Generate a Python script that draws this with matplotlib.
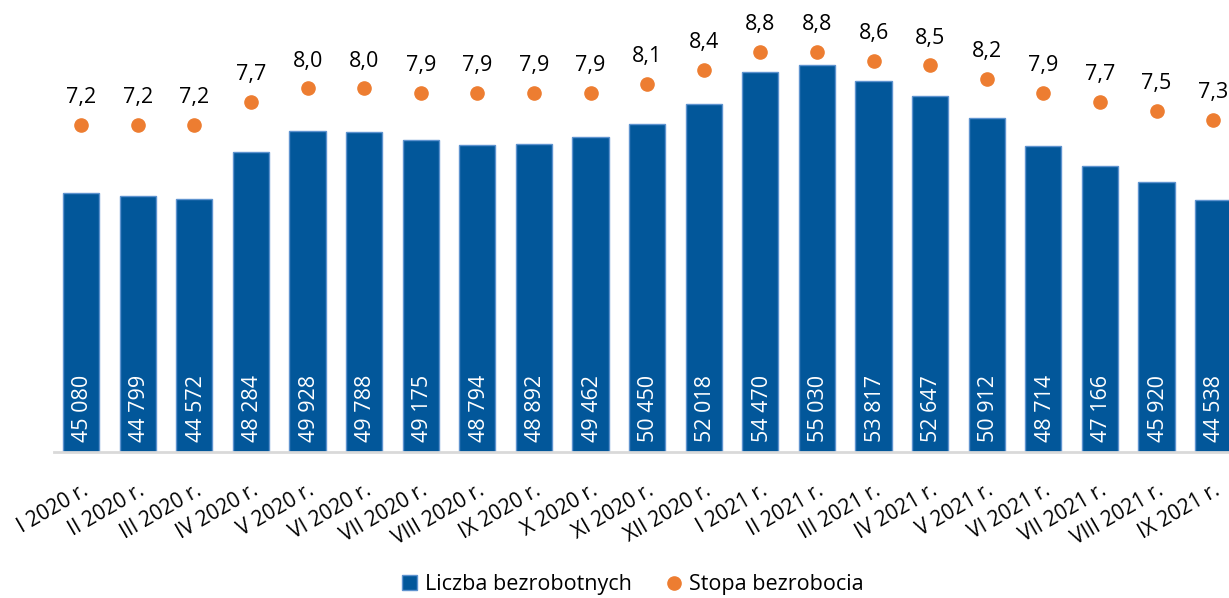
import numpy as np
import matplotlib
matplotlib.use("Agg")
import matplotlib.pyplot as plt
from matplotlib.lines import Line2D
from matplotlib.patches import Patch

plt.rcParams['font.family'] = ['Open Sans', 'DejaVu Sans']

months = ['I', 'II', 'III', 'IV', 'V', 'VI', 'VII', 'VIII', 'IX', 'X', 'XI', 'XII',
          'I', 'II', 'III', 'IV', 'V', 'VI', 'VII', 'VIII', 'IX']
years = [2020] * 12 + [2021] * 9
unemployed = [45080, 44799, 44572, 48284, 49928, 49788, 49175, 48794, 48892, 49462,
              50450, 52018, 54470, 55030, 53817, 52647, 50912, 48714, 47166, 45920, 44538]
rate = [7.2, 7.2, 7.2, 7.7, 8.0, 8.0, 7.9, 7.9, 7.9, 7.9, 8.1, 8.4, 8.8, 8.8, 8.6,
        8.5, 8.2, 7.9, 7.7, 7.5, 7.3]
labels = [f"{m} {y} r." for m, y in zip(months, years)]

bar_color = '#02579A'
dot_color = '#ED7D31'

fig = plt.figure(figsize=(12.29, 5.98), dpi=100)
ax = fig.add_axes([54 / 1229, 1 - 452 / 598, 1 - 54 / 1229, 452 / 598])
x = np.arange(len(unemployed))

ax.bar(x, unemployed, width=0.64, color=bar_color, edgecolor='#5E93CF', linewidth=1, zorder=2)
ax.set_ylim(24900, 60100)
ax.set_xlim(-0.48, 20.28)

for xi, v in zip(x, unemployed):
    s = f"{v:,}".replace(",", " ")
    ax.text(xi + 0.03, 24900 + 10 * 77.9, s, rotation=90, ha='center', va='bottom',
            color='white', fontsize=15.5, zorder=3)

for s in ['top', 'right', 'left']:
    ax.spines[s].set_visible(False)
ax.spines['bottom'].set_color('#d9d9d9')
ax.spines['bottom'].set_linewidth(2)
ax.set_yticks([])
ax.set_xticks(x)
ax.set_xticklabels(labels, rotation=30, ha='right', rotation_mode='anchor', fontsize=15)
ax.tick_params(axis='x', length=0, pad=20)

ax2 = ax.twinx()
ax2.plot(x, rate, 'o', color=dot_color, markersize=9.5, zorder=4)
ax2.set_ylim(0, 9.94)
ax2.set_yticks([])
for s in ['top', 'right', 'left', 'bottom']:
    ax2.spines[s].set_visible(False)
for xi, r in zip(x, rate):
    ax2.annotate(f"{r:.1f}".replace(".", ","), (xi, r), xytext=(0, 12),
                 textcoords='offset points', ha='center', va='bottom', fontsize=15.5)

handles = [Patch(facecolor=bar_color, edgecolor='#5E93CF', label='Liczba bezrobotnych'),
           Line2D([], [], marker='o', linestyle='none', color=dot_color, markersize=9.5,
                  label='Stopa bezrobocia')]
fig.legend(handles=handles, loc='center', bbox_to_anchor=(0.515, 0.022), ncol=2,
           frameon=False, fontsize=15.5, handlelength=0.7, handletextpad=0.35,
           columnspacing=1.6)

fig.savefig('out.png', dpi=100)
